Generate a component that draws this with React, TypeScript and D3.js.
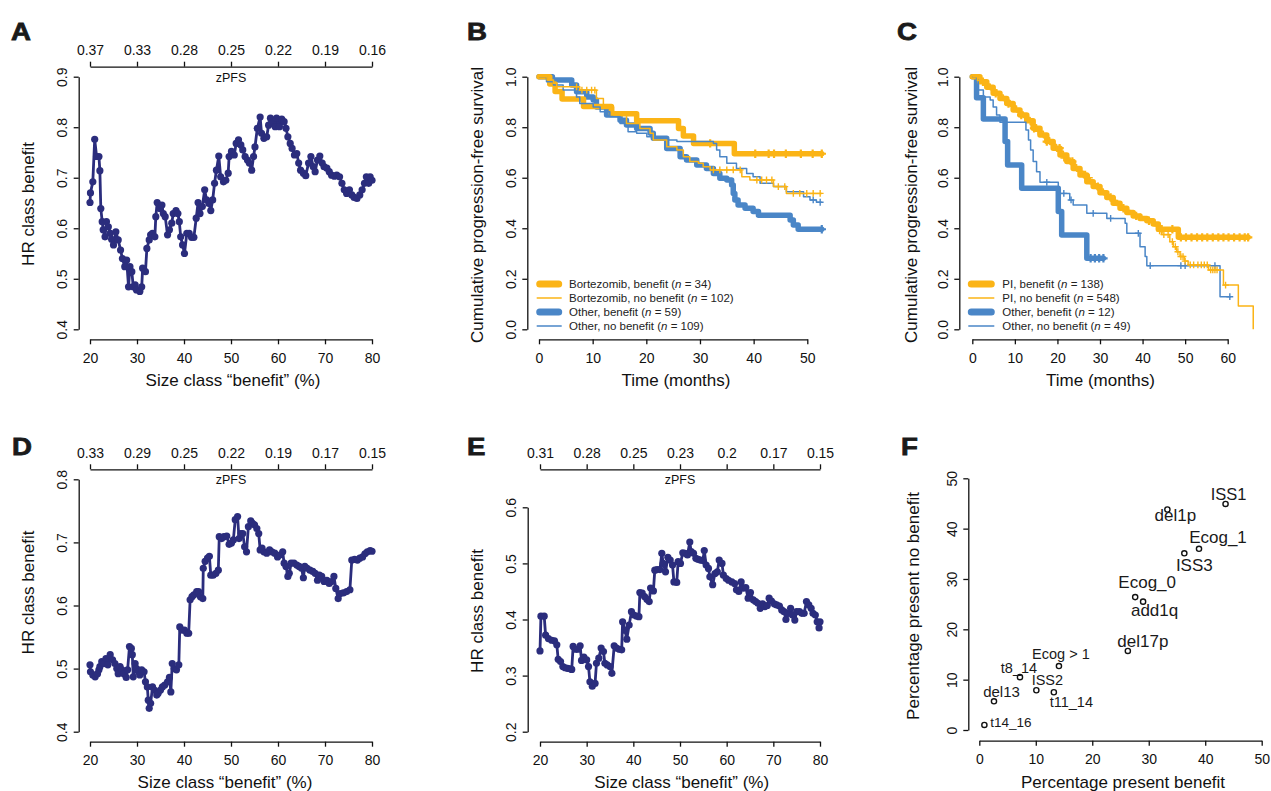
import * as d3 from "d3";
import { useEffect, useRef } from "react";

const FONT = '"Liberation Sans", Arial, Helvetica, sans-serif';
const NAVY = "#2b2d7d";
const GOLD = "#fbb416";
const BLUE = "#4a86c7";
const INK = "#111";

// ---- Panel A: HR class benefit vs size class (x = %, y = HR)
const panelA: [number, number][] = [
  [20.0, 0.651], [20.1, 0.67], [20.6, 0.692], [21.0, 0.776], [21.4, 0.742], [21.9, 0.742], [22.1, 0.714], [22.3, 0.639],
  [22.6, 0.613], [22.8, 0.597], [23.2, 0.583], [23.5, 0.613], [23.9, 0.603], [24.3, 0.59], [24.6, 0.578], [25.0, 0.567],
  [25.5, 0.593], [26.0, 0.577], [26.5, 0.557], [26.9, 0.54], [27.4, 0.524], [27.8, 0.537], [28.2, 0.484], [28.5, 0.524],
  [28.9, 0.514], [29.2, 0.484], [29.6, 0.488], [29.9, 0.478], [30.6, 0.475], [31.0, 0.484], [31.2, 0.521], [31.8, 0.514],
  [32.1, 0.56], [32.6, 0.577], [32.9, 0.587], [33.3, 0.59], [33.8, 0.583], [34.0, 0.623], [34.3, 0.651], [34.9, 0.639],
  [35.3, 0.646], [35.6, 0.629], [36.0, 0.623], [36.5, 0.587], [36.9, 0.597], [37.4, 0.61], [37.7, 0.629], [38.3, 0.635],
  [38.7, 0.629], [39.0, 0.613], [39.3, 0.583], [39.7, 0.567], [40.1, 0.55], [40.6, 0.59], [41.1, 0.59], [41.6, 0.582],
  [42.1, 0.582], [42.6, 0.62], [43.0, 0.651], [43.4, 0.629], [43.9, 0.643], [44.4, 0.676], [44.8, 0.656], [45.3, 0.649],
  [45.7, 0.635], [46.1, 0.656], [46.5, 0.689], [46.9, 0.715], [47.4, 0.743], [47.8, 0.702], [48.4, 0.692], [48.9, 0.695],
  [49.4, 0.709], [49.6, 0.742], [50.1, 0.752], [50.7, 0.745], [51.1, 0.768], [51.6, 0.775], [52.1, 0.765], [52.5, 0.755],
  [53.0, 0.742], [53.5, 0.735], [53.9, 0.729], [54.4, 0.715], [54.8, 0.742], [55.1, 0.761], [55.6, 0.798], [56.2, 0.82],
  [56.5, 0.788], [57.0, 0.778], [57.6, 0.781], [58.0, 0.804], [58.4, 0.818], [58.9, 0.808], [59.4, 0.801], [59.7, 0.818],
  [60.3, 0.801], [60.8, 0.816], [61.3, 0.811], [61.7, 0.798], [62.1, 0.781], [62.6, 0.768], [63.0, 0.758], [63.5, 0.745],
  [64.0, 0.748], [64.4, 0.729], [64.8, 0.715], [65.4, 0.709], [65.9, 0.704], [66.5, 0.729], [67.0, 0.742], [67.5, 0.722],
  [67.9, 0.712], [68.4, 0.735], [68.9, 0.743], [69.4, 0.729], [69.8, 0.722], [70.4, 0.719], [70.9, 0.712], [71.4, 0.705],
  [72.0, 0.703], [72.5, 0.705], [73.1, 0.702], [73.6, 0.689], [74.1, 0.676], [74.6, 0.669], [75.2, 0.676], [75.7, 0.666],
  [76.2, 0.661], [76.8, 0.659], [77.4, 0.666], [77.9, 0.676], [78.4, 0.689], [78.8, 0.702], [79.3, 0.689], [79.6, 0.702],
  [80.0, 0.695],
];
const aTop = ["0.37", "0.33", "0.28", "0.25", "0.22", "0.19", "0.16"];

// ---- Panel D
const panelD: [number, number][] = [
  [20.0, 0.506], [20.1, 0.495], [20.6, 0.49], [21.1, 0.487], [21.6, 0.492], [21.9, 0.498], [22.1, 0.503], [22.5, 0.511],
  [23.0, 0.508], [23.4, 0.516], [23.8, 0.506], [24.3, 0.522], [24.8, 0.514], [25.3, 0.508], [25.7, 0.5], [26.0, 0.492],
  [26.4, 0.503], [26.8, 0.498], [27.2, 0.492], [27.7, 0.486], [28.0, 0.498], [28.4, 0.535], [28.8, 0.532], [29.0, 0.522],
  [29.2, 0.487], [29.6, 0.508], [29.9, 0.5], [30.3, 0.495], [30.6, 0.49], [31.0, 0.498], [31.5, 0.495], [31.8, 0.479],
  [32.2, 0.471], [32.4, 0.45], [32.6, 0.437], [32.9, 0.445], [33.3, 0.471], [33.7, 0.466], [34.2, 0.458], [34.5, 0.461],
  [35.0, 0.466], [35.4, 0.471], [35.9, 0.474], [36.5, 0.479], [36.9, 0.486], [37.2, 0.463], [37.5, 0.508], [37.9, 0.5],
  [38.4, 0.498], [38.9, 0.506], [39.1, 0.566], [39.6, 0.561], [40.1, 0.561], [40.6, 0.556], [41.0, 0.556], [41.3, 0.609],
  [41.7, 0.614], [42.1, 0.617], [42.7, 0.622], [43.1, 0.622], [43.5, 0.614], [44.0, 0.611], [44.1, 0.659], [44.5, 0.67],
  [45.0, 0.675], [45.4, 0.678], [45.7, 0.648], [46.2, 0.648], [46.8, 0.651], [47.3, 0.656], [47.5, 0.709], [48.0, 0.706],
  [48.5, 0.709], [49.1, 0.71], [49.6, 0.697], [50.1, 0.699], [50.5, 0.704], [50.9, 0.736], [51.4, 0.741], [51.7, 0.706],
  [52.1, 0.714], [52.5, 0.714], [52.9, 0.693], [53.3, 0.685], [53.7, 0.725], [54.2, 0.734], [54.6, 0.73], [55.0, 0.728],
  [55.5, 0.722], [55.9, 0.714], [56.2, 0.688], [56.6, 0.691], [57.0, 0.685], [57.6, 0.683], [58.2, 0.688], [58.7, 0.685],
  [59.3, 0.683], [59.9, 0.677], [60.4, 0.68], [61.0, 0.685], [61.3, 0.667], [61.7, 0.662], [62.1, 0.646], [62.4, 0.651],
  [62.8, 0.667], [63.4, 0.667], [64.0, 0.664], [64.5, 0.662], [65.0, 0.659], [65.4, 0.644], [65.7, 0.662], [66.2, 0.659],
  [66.8, 0.656], [67.4, 0.654], [67.9, 0.651], [68.4, 0.64], [68.8, 0.648], [69.3, 0.646], [69.8, 0.638], [70.4, 0.64],
  [70.9, 0.635], [71.4, 0.638], [71.9, 0.646], [72.3, 0.627], [72.8, 0.611], [73.2, 0.619], [73.9, 0.62], [74.6, 0.622],
  [75.3, 0.625], [75.7, 0.672], [76.3, 0.673], [76.9, 0.672], [77.4, 0.675], [78.0, 0.677], [78.5, 0.682], [79.0, 0.685],
  [79.6, 0.687], [80.0, 0.686],
];
const dTop = ["0.33", "0.29", "0.25", "0.22", "0.19", "0.17", "0.15"];

// ---- Panel E
const panelE: [number, number][] = [
  [20.0, 0.344], [20.2, 0.406], [20.9, 0.406], [21.2, 0.372], [21.8, 0.366], [22.5, 0.363], [23.1, 0.362], [23.6, 0.355],
  [23.9, 0.329], [24.4, 0.325], [24.9, 0.316], [25.4, 0.314], [25.9, 0.313], [26.4, 0.312], [26.8, 0.311], [27.1, 0.352],
  [27.6, 0.347], [28.1, 0.347], [28.6, 0.353], [28.9, 0.327], [29.4, 0.333], [30.0, 0.328], [30.4, 0.316], [30.7, 0.289],
  [31.2, 0.281], [31.8, 0.286], [32.1, 0.322], [32.6, 0.331], [33.1, 0.349], [33.6, 0.343], [33.9, 0.322], [34.4, 0.319],
  [35.0, 0.316], [35.4, 0.304], [35.9, 0.353], [36.4, 0.349], [37.0, 0.347], [37.5, 0.346], [37.7, 0.396], [38.2, 0.381],
  [38.6, 0.365], [39.1, 0.39], [39.6, 0.414], [40.1, 0.408], [40.7, 0.406], [41.2, 0.405], [41.4, 0.448], [41.9, 0.447],
  [42.4, 0.441], [42.9, 0.436], [43.4, 0.432], [43.7, 0.456], [44.3, 0.451], [44.6, 0.488], [45.1, 0.489], [45.7, 0.489],
  [46.1, 0.518], [46.4, 0.5], [46.9, 0.485], [47.4, 0.511], [47.9, 0.506], [48.4, 0.497], [48.7, 0.467], [49.3, 0.466],
  [49.6, 0.503], [50.1, 0.5], [50.6, 0.519], [51.1, 0.518], [51.6, 0.515], [52.1, 0.538], [52.4, 0.521], [52.9, 0.518],
  [53.4, 0.509], [53.9, 0.507], [54.4, 0.506], [54.9, 0.505], [55.2, 0.523], [55.6, 0.497], [56.1, 0.491], [56.4, 0.476],
  [57.0, 0.462], [57.5, 0.482], [58.0, 0.485], [58.4, 0.506], [59.0, 0.5], [59.3, 0.479], [59.9, 0.473], [60.4, 0.47],
  [61.1, 0.467], [61.7, 0.464], [62.1, 0.453], [62.6, 0.45], [63.1, 0.467], [63.6, 0.456], [64.1, 0.457], [64.6, 0.438],
  [65.1, 0.448], [65.7, 0.435], [66.2, 0.432], [66.7, 0.429], [67.2, 0.42], [67.7, 0.428], [68.2, 0.423], [68.7, 0.425],
  [69.1, 0.438], [69.6, 0.433], [70.2, 0.428], [70.7, 0.426], [71.3, 0.424], [71.8, 0.417], [72.3, 0.414], [72.7, 0.4],
  [73.2, 0.411], [73.7, 0.42], [74.1, 0.408], [74.6, 0.399], [75.0, 0.414], [75.6, 0.414], [76.1, 0.411], [76.6, 0.411],
  [77.1, 0.432], [77.6, 0.426], [78.1, 0.42], [78.5, 0.411], [79.0, 0.408], [79.4, 0.396], [79.8, 0.385], [80.0, 0.396],
];
const eTop = ["0.31", "0.28", "0.25", "0.23", "0.2", "0.17", "0.15"];

// ---- Panel B: Kaplan-Meier steps [months, survival]
const bBortBen: [number, number][] = [
  [0, 1], [2.0, 0.971], [3.0, 0.941], [4.3, 0.912], [8.3, 0.882], [13.5, 0.853], [18.2, 0.826], [26.0, 0.795],
  [26.9, 0.765], [28.8, 0.736], [36.4, 0.695],
];
const bBortNo: [number, number][] = [
  [0, 1], [1.5, 0.987], [2.7, 0.974], [3.3, 0.96], [7.6, 0.947], [10.7, 0.914], [12.0, 0.88], [13.9, 0.848],
  [16.3, 0.815], [18.8, 0.795], [20.7, 0.776], [21.3, 0.749], [23.8, 0.723], [25.7, 0.71], [26.9, 0.683], [28.1, 0.664],
  [29.7, 0.657], [30.6, 0.644], [31.9, 0.631], [37.8, 0.604], [39.3, 0.591], [43.7, 0.565], [46.1, 0.538],
];
const bOtherBen: [number, number][] = [
  [0, 1], [2.5, 0.987], [6.1, 0.967], [7.0, 0.94], [8.9, 0.92], [10.1, 0.908], [10.7, 0.88], [12.6, 0.848],
  [15.1, 0.828], [16.3, 0.809], [18.2, 0.795], [20.7, 0.776], [21.3, 0.756], [23.8, 0.716], [26.3, 0.683], [27.5, 0.67],
  [29.4, 0.65], [31.2, 0.637], [32.5, 0.617], [33.7, 0.598], [35.0, 0.591], [35.9, 0.571], [36.2, 0.538], [36.5, 0.512],
  [37.1, 0.492], [38.4, 0.479], [39.9, 0.466], [40.9, 0.452], [46.8, 0.433], [47.4, 0.413], [48.3, 0.396],
];
const bOtherNo: [number, number][] = [
  [0, 1], [1.4, 0.98], [2.7, 0.967], [4.5, 0.947], [7.0, 0.92], [7.6, 0.894], [10.1, 0.88], [11.4, 0.861],
  [13.2, 0.842], [15.1, 0.815], [16.6, 0.782], [18.2, 0.776], [20.1, 0.762], [21.3, 0.756], [22.5, 0.749], [25.7, 0.743],
  [32.5, 0.736], [33.1, 0.71], [33.7, 0.683], [35.0, 0.657], [36.8, 0.637], [38.7, 0.617], [39.9, 0.604], [41.2, 0.578],
  [43.7, 0.565], [46.1, 0.545], [49.3, 0.525], [50.5, 0.512], [51.7, 0.503],
];
const bEnds = [52.7, 52.7, 52.7, 52.7];
const bBortBenCens = [31.9, 40.3, 42.8, 43.8, 46.0, 48.8, 51.0, 52.7];
const bBortNoCens = [7.0, 8.0, 8.9, 9.8, 10.4, 32.5, 33.7, 35.0, 36.2, 37.5, 40.6, 41.5, 42.4, 43.4, 44.6, 45.8, 47.4, 48.6, 49.9, 51.1, 52.4];
const bOtherBenCens = [52.7];
const bOtherNoCens = [51.1, 52.4];
const bNames = ["Bortezomib, benefit", "Bortezomib, no benefit", "Other, benefit", "Other, no benefit"];
const bN = [34, 102, 59, 109];

// ---- Panel C
const cPIBen: [number, number][] = [
  [0, 1], [1.8, 0.98], [3.4, 0.958], [4.9, 0.934], [6.5, 0.914], [8.1, 0.894], [9.6, 0.868], [11.2, 0.848],
  [12.8, 0.826], [14.3, 0.796], [15.9, 0.769], [17.5, 0.743], [19.0, 0.717], [20.6, 0.69], [22.2, 0.664], [23.7, 0.637],
  [25.3, 0.611], [26.9, 0.584], [28.4, 0.565], [30.0, 0.541], [31.6, 0.522], [33.1, 0.499], [34.7, 0.479], [36.3, 0.462],
  [37.8, 0.449], [39.4, 0.439], [41.0, 0.43], [42.5, 0.417], [43.7, 0.396], [48.4, 0.364],
];
const cPINo: [number, number][] = [
  [0, 1], [1.2, 0.985], [2.6, 0.97], [4.2, 0.948], [5.8, 0.928], [7.3, 0.906], [8.9, 0.884], [10.4, 0.86],
  [12.0, 0.838], [13.6, 0.81], [15.1, 0.784], [16.7, 0.758], [18.2, 0.732], [19.8, 0.705], [21.4, 0.678], [23.0, 0.652],
  [24.5, 0.626], [26.1, 0.6], [27.7, 0.576], [29.2, 0.555], [30.8, 0.533], [32.4, 0.51], [33.9, 0.49], [35.5, 0.47],
  [37.1, 0.456], [38.6, 0.445], [40.2, 0.435], [41.8, 0.424], [42.8, 0.41], [43.5, 0.39], [44.5, 0.375], [46.4, 0.347],
  [47.2, 0.327], [48.0, 0.307], [48.8, 0.288], [49.8, 0.27], [50.7, 0.255], [55.5, 0.235], [59.0, 0.175], [62.5, 0.092],
  [66.0, 0.0],
];
const cOtherBen: [number, number][] = [
  [0, 1], [1.0, 0.917], [2.6, 0.833], [7.7, 0.743], [8.3, 0.65], [11.6, 0.558], [20.2, 0.466], [21.0, 0.373], [26.9, 0.281],
];
const cOtherNo: [number, number][] = [
  [0, 1], [1.0, 0.987], [1.4, 0.947], [2.6, 0.92], [4.2, 0.908], [4.9, 0.88], [5.7, 0.848], [6.5, 0.82],
  [12.6, 0.789], [13.2, 0.749], [13.7, 0.71], [14.3, 0.664], [15.1, 0.624], [15.9, 0.582], [20.2, 0.538], [22.9, 0.512],
  [23.7, 0.492], [26.9, 0.459], [31.6, 0.439], [35.9, 0.42], [36.3, 0.38], [39.4, 0.327], [40.6, 0.288], [41.0, 0.252],
  [58.2, 0.129],
];
const cEnds = [64.8, 66.0, 30.8, 60.7];
const cPIBenCens = [2.5, 5.5, 8.5, 11.5, 14.5, 17.5, 20.5, 23.5, 26.5, 29.5, 32.5, 35.5, 38.5, 41.5, 44.5, 47.0,
  49.0, 50.2, 51.5, 52.8, 54.0, 55.2, 56.5, 57.8, 59.0, 60.2, 61.5, 62.8, 64.0, 64.8];
const cPINoCens = [3.5, 9.5, 15.5, 21.5, 27.5, 33.5, 39.5, 44.0, 45.0, 46.0, 47.0, 47.7, 48.3, 49.0, 49.5, 50.0, 51.2,
  52.0, 53.0, 53.8, 54.5, 55.2, 56.0, 56.5, 57.0, 57.5, 59.5];
const cOtherBenCens = [27.8, 28.8, 29.8, 30.8];
const cOtherNoCens = [17.5, 21.5, 23.2, 28.4, 32.5, 39.0, 41.8, 49.0, 50.0, 57.0, 60.5];
const cNames = ["PI, benefit", "PI, no benefit", "Other, benefit", "Other, no benefit"];
const cN = [138, 548, 12, 49];

// ---- Panel F: percentage present
const fNames = ["ISS1", "del1p", "Ecog_1", "ISS3", "Ecog_0", "add1q", "del17p", "Ecog > 1", "t8_14", "ISS2", "t11_14", "del13", "t14_16"];
const fBenefit = [43.6, 33.3, 38.9, 36.3, 27.6, 29.0, 26.3, 14.1, 7.2, 10.1, 13.2, 2.6, 0.9];
const fNoBenefit = [44.9, 43.8, 36.0, 35.1, 26.4, 25.5, 15.7, 12.7, 10.5, 7.9, 7.5, 5.7, 1.0];
// label placement relative to the point (px) and label size
const fLabelDx = [3, 8, 19, 10, 12, 11.5, 15, 2, -1, 11, 17.5, 7.5, 26.5];
const fLabelDy = [-4, 11.5, -5.5, 17.3, -8.7, 14.3, -4.3, -6.7, -4.3, -5, 14.7, -4.6, 1.7];
const fLabelSize = [16.5, 17, 17, 17, 17, 17, 17, 14.5, 14.5, 14.5, 14.5, 15, 13.5];

const sizeTicks = [20, 30, 40, 50, 60, 70, 80];

type Sel = d3.Selection<any, unknown, null, undefined>;

function axisScale(scale: d3.ScaleLinear<number, number>, ticks: number[]) {
  const a = ticks[0], b = ticks[ticks.length - 1];
  return d3.scaleLinear().domain([a, b]).range([scale(a), scale(b)]);
}

function styleAxis(g: Sel, size = 14) {
  g.attr("font-family", FONT).attr("font-size", size);
  g.select(".domain").attr("stroke", INK).attr("stroke-width", 1.3);
  g.selectAll(".tick line").attr("stroke", INK).attr("stroke-width", 1.3);
  g.selectAll(".tick text").attr("fill", INK);
}

function bottomAxis(svg: Sel, x: any, ticks: number[], y: number, fmt: (d: any, i: number) => string) {
  const g = svg.append("g").attr("transform", `translate(0,${y})`)
    .call(d3.axisBottom(axisScale(x, ticks)).tickValues(ticks).tickSize(5).tickSizeOuter(0).tickPadding(8.5).tickFormat(fmt as any));
  styleAxis(g);
}

function topAxis(svg: Sel, x: any, ticks: number[], y: number, labels: string[]) {
  const g = svg.append("g").attr("transform", `translate(0,${y})`)
    .call(d3.axisTop(axisScale(x, ticks)).tickValues(ticks).tickSize(5).tickSizeOuter(0).tickPadding(6.5)
      .tickFormat((_d, i) => labels[i]));
  styleAxis(g);
  svg.append("text").attr("x", (x(ticks[0]) + x(ticks[ticks.length - 1])) / 2).attr("y", y + 15)
    .attr("text-anchor", "middle").attr("font-family", FONT).attr("font-size", 12.5).attr("fill", INK).text("zPFS");
}

function leftAxis(svg: Sel, yS: any, ticks: number[], x: number, fmt: (d: any) => string) {
  const g = svg.append("g").attr("transform", `translate(${x},0)`)
    .call(d3.axisLeft(axisScale(yS, ticks)).tickValues(ticks).tickSize(5).tickSizeOuter(0).tickFormat(fmt as any));
  styleAxis(g);
  g.selectAll(".tick text").attr("x", 0).attr("dy", null).attr("text-anchor", "middle")
    .attr("transform", "translate(-11.7,0) rotate(-90)");
}

function title(svg: Sel, txt: string, x: number, y: number, rotate = false) {
  const t = svg.append("text").attr("font-family", FONT).attr("font-size", 17).attr("fill", INK)
    .attr("text-anchor", "middle").text(txt);
  if (rotate) t.attr("transform", `translate(${x},${y}) rotate(-90)`);
  else t.attr("x", x).attr("y", y);
}

function letter(svg: Sel, txt: string, x: number, y: number) {
  svg.append("text").attr("transform", `translate(${x},${y}) scale(1.15,1)`).attr("font-family", FONT)
    .attr("font-weight", "bold").attr("font-size", 24).attr("fill", "#1a1a1a")
    .attr("stroke", "#1a1a1a").attr("stroke-width", 0.8).text(txt);
}

function drawHR(svg: Sel, data: [number, number][], x: any, y: any) {
  const line = d3.line<[number, number]>().x(d => x(d[0])).y(d => y(d[1]));
  svg.append("path").attr("d", line(data)).attr("fill", "none").attr("stroke", NAVY)
    .attr("stroke-width", 2.8).attr("stroke-linejoin", "round");
  svg.append("g").selectAll("circle").data(data).join("circle")
    .attr("cx", d => x(d[0])).attr("cy", d => y(d[1])).attr("r", 3.6).attr("fill", NAVY);
}

function survAt(steps: [number, number][], t: number) {
  let s = steps[0][1];
  for (const [tt, v] of steps) if (tt <= t) s = v;
  return s;
}

function drawKM(svg: Sel, steps: [number, number][], end: number, cens: number[], x: any, y: any, color: string, thick: boolean) {
  const pts: [number, number][] = [...steps, [end, steps[steps.length - 1][1]]];
  const line = d3.line<[number, number]>().x(d => x(d[0])).y(d => y(d[1])).curve(d3.curveStepAfter);
  svg.append("path").attr("d", line(pts)).attr("fill", "none").attr("stroke", color)
    .attr("stroke-width", thick ? 5.5 : 1.5).attr("stroke-linejoin", "round").attr("stroke-linecap", thick ? "round" : "butt");
  const h = thick ? 4.2 : 3.4;
  svg.append("g").selectAll("path").data(cens).join("path")
    .attr("d", t => {
      const cx = x(t), cy = y(survAt(steps, t));
      return `M${cx - h},${cy}H${cx + h}M${cx},${cy - h}V${cy + h}`;
    })
    .attr("stroke", color).attr("stroke-width", thick ? 2.2 : 1.4).attr("fill", "none");
}

function legend(svg: Sel, names: string[], ns: number[], x0: number, x1: number, tx: number, y0: number) {
  const colors = [GOLD, GOLD, BLUE, BLUE];
  names.forEach((nm, i) => {
    const cy = y0 + i * 14;
    const thick = i % 2 === 0;
    svg.append("line").attr("x1", x0 + (thick ? 3 : 0)).attr("x2", x1 - (thick ? 3 : 0)).attr("y1", cy).attr("y2", cy)
      .attr("stroke", colors[i]).attr("stroke-width", thick ? 7 : 1.5).attr("stroke-linecap", thick ? "round" : "butt");
    const t = svg.append("text").attr("x", tx).attr("y", cy + 4.2).attr("font-family", FONT)
      .attr("font-size", 11.5).attr("fill", "#222");
    t.append("tspan").text(`${nm} (`);
    t.append("tspan").attr("font-style", "italic").text("n");
    t.append("tspan").text(` = ${ns[i]})`);
  });
}

export default function App() {
  const ref = useRef<SVGSVGElement>(null);

  useEffect(() => {
    if (!ref.current) return;
    const svg = d3.select(ref.current) as Sel;
    svg.selectAll("*").remove();
    svg.append("rect").attr("width", 1271).attr("height", 791).attr("fill", "#fff");

    const f1 = d3.format(".1f");
    const fi = (d: number) => String(d);

    // ---------- A
    const xA = d3.scaleLinear().domain([20, 80]).range([90, 372]);
    const yA = d3.scaleLinear().domain([0.4, 0.9]).range([329.3, 76.7]);
    leftAxis(svg, yA, [0.4, 0.5, 0.6, 0.7, 0.8, 0.9], 78.7, f1);
    bottomAxis(svg, xA, sizeTicks, 339.3, fi);
    topAxis(svg, xA, sizeTicks, 66.7, aTop);
    drawHR(svg, panelA, xA, yA);
    title(svg, "HR class benefit", 34, 204, true);
    title(svg, "Size class \u201cbenefit\u201d (%)", 233, 386);
    letter(svg, "A", 11, 40);

    // ---------- B
    const xB = d3.scaleLinear().domain([0, 50]).range([539, 807.3]);
    const yB = d3.scaleLinear().domain([0, 1]).range([329.3, 76.7]);
    leftAxis(svg, yB, [0, 0.2, 0.4, 0.6, 0.8, 1.0], 527.3, f1);
    bottomAxis(svg, xB, [0, 10, 20, 30, 40, 50], 339.3, fi);
    drawKM(svg, bOtherBen, bEnds[2], bOtherBenCens, xB, yB, BLUE, true);
    drawKM(svg, bBortBen, bEnds[0], bBortBenCens, xB, yB, GOLD, true);
    drawKM(svg, bOtherNo, bEnds[3], bOtherNoCens, xB, yB, BLUE, false);
    drawKM(svg, bBortNo, bEnds[1], bBortNoCens, xB, yB, GOLD, false);
    legend(svg, bNames, bN, 536.7, 561.7, 569, 284);
    title(svg, "Cumulative progression-free survival", 483, 205, true);
    title(svg, "Time (months)", 676, 386);
    letter(svg, "B", 467, 40);

    // ---------- C
    const xC = d3.scaleLinear().domain([0, 60]).range([972.3, 1227.7]);
    const yC = d3.scaleLinear().domain([0, 1]).range([329.3, 76.7]);
    leftAxis(svg, yC, [0, 0.2, 0.4, 0.6, 0.8, 1.0], 959.3, f1);
    bottomAxis(svg, xC, [0, 10, 20, 30, 40, 50, 60], 339.3, fi);
    drawKM(svg, cOtherBen, cEnds[2], cOtherBenCens, xC, yC, BLUE, true);
    drawKM(svg, cPIBen, cEnds[0], cPIBenCens, xC, yC, GOLD, true);
    drawKM(svg, cOtherNo, cEnds[3], cOtherNoCens, xC, yC, BLUE, false);
    drawKM(svg, cPINo, cEnds[1], cPINoCens, xC, yC, GOLD, false);
    legend(svg, cNames, cN, 968.3, 994.3, 1002.3, 284);
    title(svg, "Cumulative progression-free survival", 917, 205, true);
    title(svg, "Time (months)", 1100.5, 386);
    letter(svg, "C", 897, 40);

    // ---------- D
    const xD = d3.scaleLinear().domain([20, 80]).range([90, 372]);
    const yD = d3.scaleLinear().domain([0.4, 0.8]).range([731.7, 479.3]);
    leftAxis(svg, yD, [0.4, 0.5, 0.6, 0.7, 0.8], 78.7, f1);
    bottomAxis(svg, xD, sizeTicks, 741.7, fi);
    topAxis(svg, xD, sizeTicks, 469.3, dTop);
    drawHR(svg, panelD, xD, yD);
    title(svg, "HR class benefit", 34, 592.5, true);
    title(svg, "Size class \u201cbenefit\u201d (%)", 225, 787.5);
    letter(svg, "D", 12, 455);

    // ---------- E
    const xE = d3.scaleLinear().domain([20, 80]).range([540, 820]);
    const yE = d3.scaleLinear().domain([0.2, 0.6]).range([731.7, 507.3]);
    leftAxis(svg, yE, [0.2, 0.3, 0.4, 0.5, 0.6], 527.7, f1);
    bottomAxis(svg, xE, sizeTicks, 741.7, fi);
    topAxis(svg, xE, sizeTicks, 469.3, eTop);
    drawHR(svg, panelE, xE, yE);
    title(svg, "HR class benefit", 483, 611, true);
    title(svg, "Size class \u201cbenefit\u201d (%)", 681.7, 787.5);
    letter(svg, "E", 467, 455);

    // ---------- F
    const xF = d3.scaleLinear().domain([0, 50]).range([979.3, 1261.7]);
    const yF = d3.scaleLinear().domain([0, 50]).range([730, 478.3]);
    leftAxis(svg, yF, [0, 10, 20, 30, 40, 50], 968.3, fi);
    bottomAxis(svg, xF, [0, 10, 20, 30, 40, 50], 740.7, fi);
    const gF = svg.append("g");
    fNames.forEach((nm, i) => {
      const cx = xF(fBenefit[i]), cy = yF(fNoBenefit[i]);
      gF.append("circle").attr("cx", cx).attr("cy", cy).attr("r", 2.6)
        .attr("fill", "#fff").attr("stroke", INK).attr("stroke-width", 1.4);
      gF.append("text").attr("x", cx + fLabelDx[i]).attr("y", cy + fLabelDy[i]).attr("text-anchor", "middle")
        .attr("font-family", FONT).attr("font-size", fLabelSize[i]).attr("fill", "#1a1a1a").text(nm);
    });
    title(svg, "Percentage present no benefit", 919, 606, true);
    title(svg, "Percentage present benefit", 1123, 787.5);
    letter(svg, "F", 901, 455);
  }, []);

  return <svg ref={ref} width={1271} height={791} style={{ position: "absolute", left: 0, top: 0, display: "block" }} />;
}
